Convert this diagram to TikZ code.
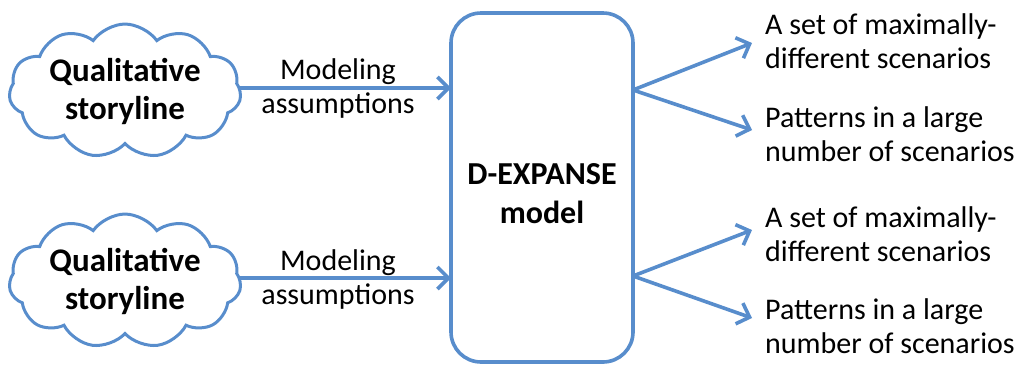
\documentclass[tikz,border=0pt]{standalone}
\usepackage{fontspec}
\setmainfont{Carlito}
\usetikzlibrary{shapes.symbols,arrows.meta}
\definecolor{lineblue}{RGB}{88,141,204}
\tikzset{
  conn/.style={draw=lineblue, line width=3.6pt, -{Straight Barb[length=11pt,width=22pt,line width=3.6pt]}},
  cloudbox/.style={cloud, cloud puffs=11, cloud puff arc=110, aspect=2, draw=lineblue, line width=3pt,
    minimum width=232pt, minimum height=118pt, inner sep=0pt, align=center,
    font=\fontsize{33}{38}\selectfont\bfseries},
  modelbox/.style={draw=lineblue, line width=3.6pt, rounded corners=30pt},
  modeltext/.style={align=center, inner sep=0pt, font=\fontsize{32}{39}\selectfont\bfseries},
  lbl/.style={align=center, font=\fontsize{30}{34}\selectfont, inner sep=0pt},
  outlbl/.style={align=left, anchor=west, font=\fontsize{30}{33.5}\selectfont, inner sep=0pt},
}
\begin{document}
\begin{tikzpicture}[x=1pt,y=-1pt]
\useasboundingbox (0,0) rectangle (1016,368);
\node[cloudbox] (c1) at (125,91) {Qualitative\\storyline};
\node[cloudbox] (c2) at (125,281) {Qualitative\\storyline};
\draw[modelbox] (451,13) rectangle (633,362);
\node[modeltext] (m) at (542,194) {D-EXPANSE\\model};
\coordinate (bl1) at (451,88);
\coordinate (bl2) at (451,278);
\coordinate (br1) at (633,90);
\coordinate (br2) at (633,276);
\coordinate (t1) at (752,43);
\coordinate (t2) at (752,130);
\coordinate (t3) at (752,230);
\coordinate (t4) at (752,318);
\coordinate (s1) at (240,88);
\coordinate (s2) at (240,278);
\draw[conn] (s1) -- (bl1);
\draw[conn] (s2) -- (bl2);
\draw[conn] (br1) -- (t1);
\draw[conn] (br1) -- (t2);
\draw[conn] (br2) -- (t3);
\draw[conn] (br2) -- (t4);
\node[lbl] (l1) at (338,88) {Modeling\\assumptions};
\node[lbl] (l2) at (338,279) {Modeling\\assumptions};
\node[outlbl] (o1) at (765,41) {A set of maximally-\\different scenarios};
\node[outlbl] (o2) at (765,134) {Patterns in a large\\number of scenarios};
\node[outlbl] (o3) at (765,234) {A set of maximally-\\different scenarios};
\node[outlbl] (o4) at (765,326) {Patterns in a large\\number of scenarios};
\end{tikzpicture}
\end{document}
